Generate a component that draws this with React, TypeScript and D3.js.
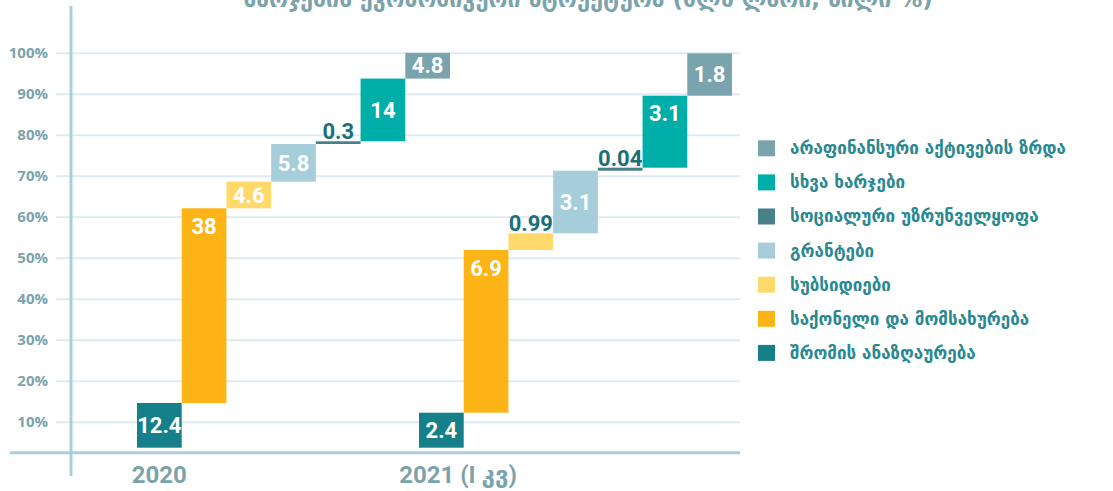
import React, { useEffect, useRef } from "react";
import * as d3 from "d3";

const title = "ხარჯების ეკონომიკური სტრუქტურა (მლნ ლარი, წილი %)";
const groups = ["2020", "2021 (I კვ)"];
const categories = [
  "შრომის ანაზღაურება",
  "საქონელი და მომსახურება",
  "სუბსიდიები",
  "გრანტები",
  "სოციალური უზრუნველყოფა",
  "სხვა ხარჯები",
  "არაფინანსური აქტივების ზრდა",
];
const colors = ["#15808a", "#fdb417", "#ffda6b", "#a6ceda", "#477f8b", "#00aea9", "#79a4ad"];
// value labels shown on the bars
const values2020 = [12.4, 38, 4.6, 5.8, 0.3, 14, 4.8];
const values2021 = [2.4, 6.9, 0.99, 3.1, 0.04, 3.1, 1.8];
// bar heights in % of the stack
const shares2020 = [11.33, 49.33, 6.74, 9.55, 0.68, 15.89, 6.51];
const shares2021 = [8.87, 41.22, 4.23, 15.86, 0.76, 18.24, 10.74];
const gridTicks = [10, 20, 30, 40, 50, 60, 70, 80, 90, 100];

const App = () => {
  const svgRef = useRef<SVGSVGElement>(null);

  useEffect(() => {
    const width = 1113;
    const height = 491;
    const svg = d3.select(svgRef.current);
    svg.selectAll("*").remove();
    svg.attr("width", width).attr("height", height).attr("viewBox", [0, 0, width, height]);

    const gridY = d3.scaleLinear().domain([0, 100]).range([462.7, 52.7]);
    const y = d3.scaleLinear().domain([0, 100]).range([447.7, 53]);
    const groupX = d3.scaleBand().domain(groups).range([137, 701]);
    const barX = d3.scaleBand<number>().domain(d3.range(categories.length)).range([0, 313]);

    // gridlines + tick labels
    const axis = svg
      .append("g")
      .attr("transform", "translate(56,0)")
      .call(
        d3
          .axisLeft(gridY)
          .tickValues(gridTicks)
          .tickSize(-684)
          .tickFormat((d) => `${d}%`)
      );
    axis.select(".domain").remove();
    axis.selectAll(".tick line").attr("stroke", "#deebf0").attr("stroke-width", 2);
    axis
      .selectAll(".tick text")
      .attr("x", -8)
      .attr("dy", "0.35em")
      .style("font", "700 15px 'Open Sans', sans-serif")
      .attr("fill", "#7aa3ac");

    // axis lines
    svg.append("line").attr("x1", 71).attr("x2", 71).attr("y1", 6).attr("y2", 476)
      .attr("stroke", "#a9d0da").attr("stroke-width", 3);
    svg.append("line").attr("x1", 10).attr("x2", 740).attr("y1", 452.7).attr("y2", 452.7)
      .attr("stroke", "#a9d0da").attr("stroke-width", 3);

    // title, cut off at the top as in the source
    svg
      .append("text")
      .attr("x", 588)
      .attr("y", 7)
      .attr("text-anchor", "middle")
      .attr("fill", "#7aa3ac")
      .style("font", "700 23px 'DejaVu Sans', sans-serif")
      .text(title);

    const series = [shares2020, shares2021];
    const labels = [values2020, values2021];

    groups.forEach((g, gi) => {
      const ends = d3.cumsum(series[gi]);
      const bars = series[gi].map((s, i) => ({
        i,
        y0: ends[i] - s,
        y1: ends[i],
        label: labels[gi][i],
      }));
      const gg = svg.append("g").attr("transform", `translate(${groupX(g)},0)`);

      gg.selectAll("rect")
        .data(bars)
        .join("rect")
        .attr("x", (d) => barX(d.i)!)
        .attr("width", barX.bandwidth())
        .attr("y", (d) => y(d.y1))
        .attr("height", (d) => y(d.y0) - y(d.y1))
        .attr("fill", (d) => colors[d.i]);

      gg.selectAll("text.val")
        .data(bars)
        .join("text")
        .attr("class", "val")
        .attr("x", (d) => barX(d.i)! + barX.bandwidth() / 2)
        .attr("text-anchor", "middle")
        .style("font", "700 22px Roboto, sans-serif")
        .each(function (d) {
          const top = y(d.y1);
          const h = y(d.y0) - top;
          const t = d3.select(this);
          if (h < 20) {
            t.attr("y", top - 2).attr("fill", "#1b6f78");
          } else if (h > 66) {
            t.attr("y", top + 18).attr("dy", "0.35em").attr("fill", "#fff");
          } else {
            t.attr("y", top + h / 2).attr("dy", "0.35em").attr("fill", "#fff");
          }
        })
        .text((d) => String(d.label));

      svg
        .append("text")
        .attr("x", gi === 0 ? groupX(g)! + barX.bandwidth() / 2 : groupX(g)! + 39)
        .attr("y", 483)
        .attr("text-anchor", "middle")
        .attr("fill", "#7aa3ac")
        .style("font", "700 24px Roboto, 'DejaVu Sans', sans-serif")
        .text(g);
    });

    // legend, top item is the last category
    const legendItems = categories.map((c, i) => ({ c, i })).reverse();
    const legend = svg
      .append("g")
      .selectAll("g")
      .data(legendItems)
      .join("g")
      .attr("transform", (_, k) => `translate(758,${148.3 + k * 34.1})`);
    legend
      .append("rect")
      .attr("y", -8)
      .attr("width", 17)
      .attr("height", 16)
      .attr("fill", (d) => colors[d.i]);
    legend
      .append("text")
      .attr("x", 32)
      .attr("dy", "0.35em")
      .attr("fill", "#2a8891")
      .style("font", "700 17px 'DejaVu Sans', sans-serif")
      .text((d) => d.c);
  }, []);

  return (
    <div style={{ position: "absolute", left: 0, top: 0 }}>
      <svg ref={svgRef} style={{ display: "block" }}></svg>
    </div>
  );
};

export default App;
